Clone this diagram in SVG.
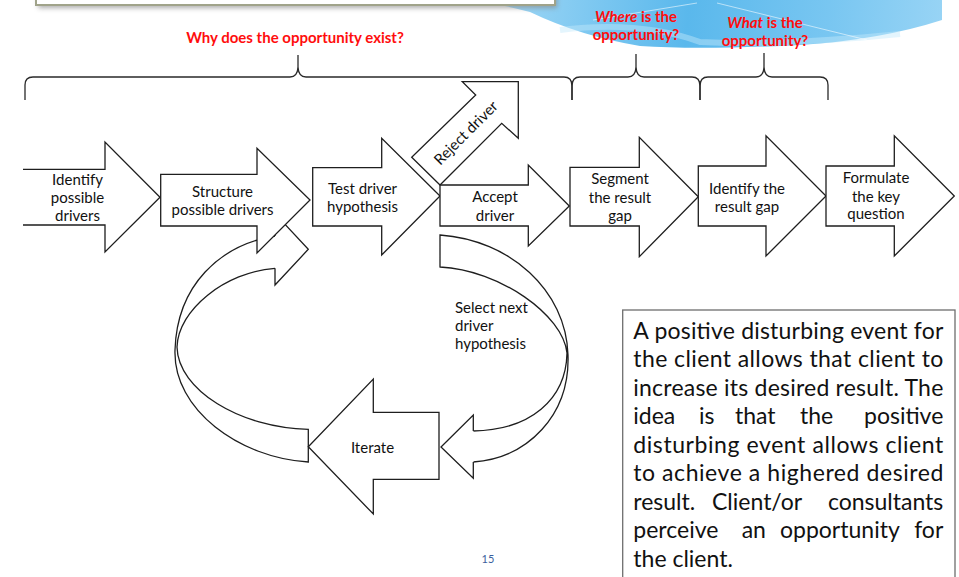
<svg xmlns="http://www.w3.org/2000/svg" width="959" height="577" viewBox="0 0 959 577">
<style>
.shape{fill:#fff;stroke:#1e1e1e;stroke-width:1.3;stroke-linejoin:miter}
.band{fill:none;stroke:#1e1e1e;stroke-width:1.3}
.brace{fill:none;stroke:#2a2a2a;stroke-width:1.3}
.lbl{font-family:Lato,"Open Sans",sans-serif;font-size:15px;fill:#111;text-anchor:middle}
.sel{font-family:Lato,"Open Sans",sans-serif;font-size:15px;fill:#111}
.q{font-family:Lato,"Open Sans",sans-serif;font-weight:bold;font-size:15px;fill:#ff0d0d;text-anchor:middle}
.body{font-family:Lato,"Open Sans",sans-serif;font-size:23px;fill:#111}
</style>
<defs>
<linearGradient id="sky" x1="480" y1="0" x2="942" y2="40" gradientUnits="userSpaceOnUse">
<stop offset="0" stop-color="#a6daf6"/>
<stop offset="0.45" stop-color="#5ab8ec"/>
<stop offset="0.75" stop-color="#78c6f1"/>
<stop offset="1" stop-color="#98d4f5"/>
</linearGradient>
<filter id="sh" x="-5%" y="-50%" width="110%" height="300%">
<feGaussianBlur stdDeviation="2.5"/>
</filter>
</defs>

<g id="background">
<path d="M470,0 L942,0 L942,20 Q880,40 800,45 Q700,50 640,46 Q580,36 530,12 Q500,4 470,0 Z" fill="url(#sky)"/>
<path d="M560,30 Q640,20 700,42 Q780,46 900,34" fill="none" stroke="#c4e8fb" stroke-width="6" opacity="0.45"/>
<line x1="593" y1="20" x2="697" y2="3" stroke="#ffffff" stroke-width="0.8" opacity="0.7"/>
<line x1="717" y1="3" x2="867" y2="40" stroke="#ffffff" stroke-width="0.8" opacity="0.7"/>
<rect x="38" y="-10" width="519" height="18" fill="#8a8a8a" filter="url(#sh)" opacity="0.7"/>
<rect x="36" y="-20" width="519" height="25" fill="#ffffff" stroke="#a0a38a" stroke-width="2"/>
</g>

<g id="questions">
<text class="q" x="295" y="43">Why does the opportunity exist?</text>
<text class="q" x="636" y="22"><tspan font-style="italic">Where</tspan> is the</text>
<text class="q" x="636" y="40">opportunity?</text>
<text class="q" x="765" y="28"><tspan font-style="italic">What</tspan> is the</text>
<text class="q" x="765" y="46">opportunity?</text>
</g>

<g id="braces">
<path class="brace" d="M25,100 V85 Q25,77 33,77 H290 Q297.5,77 298,67 V55 V67 Q298.5,77 306,77 H564 Q572,77 572,86 V100"/>
<path class="brace" d="M572,100 V86 Q572,77 580,77 H628 Q635.5,77 636,67 V54 V67 Q636.5,77 644,77 H692 Q700,77 700,86 V100"/>
<path class="brace" d="M700,100 V86 Q700,77 708,77 H756 Q763.5,77 764,67 V53 V67 Q764.5,77 772,77 H820 Q828,77 828,85 V100"/>
</g>

<g id="connectors">
<path class="band" d="M275,236 C220,245 177,285 175,350 C173,410 240,458 308.3,462 V429.3 C240,428 178,390 177,347 C178,310 225,272 275,268.3"/>
<path class="shape" d="M275,268.3 L275,285 L308.3,249.3 L275,213.6 L275,236"/>
<path class="band" d="M473.3,431 C530,430 566,400 567,353 C563,315 500,270 440,267 V235 C510,240 566,290 568,355 C570,415 528,458 473.3,462"/>
<path class="shape" d="M473.3,431 L473.3,415 L441,447 L473.3,478.3 L473.3,462"/>
</g>

<g id="n-identify">
<path class="shape" d="M23,169.3 L105,169.3 L105,142 L160,197.3 L105,252 L105,225 L23,225"/>
<text class="lbl" x="77.5" y="185">Identify</text>
<text class="lbl" x="77.5" y="203">possible</text>
<text class="lbl" x="77.5" y="221">drivers</text>
</g>

<g id="n-structure">
<path class="shape" d="M160.7,174.3 L257,174.3 L257,148.3 L310,200 L257,253 L257,226 L160.7,226 Z"/>
<text class="lbl" x="222.5" y="196.7">Structure</text>
<text class="lbl" x="222.5" y="215">possible drivers</text>
</g>

<g id="n-test">
<path class="shape" d="M312.7,167.7 L381.7,167.7 L381.7,138.3 L440,196 L381.7,255 L381.7,226 L312.7,226 Z"/>
<text class="lbl" x="362.5" y="194">Test driver</text>
<text class="lbl" x="362.5" y="212">hypothesis</text>
</g>

<g id="n-reject">
<path class="shape" d="M440,185 L411.7,157.3 L475.7,95 L462.3,81.7 L518.3,81.7 L518.3,138.3 L501.7,123.3 Z"/>
<text class="lbl" transform="translate(466,133) rotate(-45)" x="0" y="5">Reject driver</text>
</g>

<g id="n-accept">
<path class="shape" d="M440,185 L528.3,185 L528.3,165 L569.3,206 L528.3,246 L528.3,226 L440,226 Z"/>
<text class="lbl" x="495" y="202">Accept</text>
<text class="lbl" x="495" y="220.5">driver</text>
</g>

<g id="n-segment">
<path class="shape" d="M570,167.3 L639.3,167.3 L639.3,137.3 L698.3,196.7 L639.3,256.7 L639.3,226 L570,226 Z"/>
<text class="lbl" x="620" y="184.3">Segment</text>
<text class="lbl" x="620" y="202.7">the result</text>
<text class="lbl" x="620" y="221">gap</text>
</g>

<g id="n-gap">
<path class="shape" d="M698.3,166 L766,166 L766,135.7 L826,196 L766,256 L766,226 L698.3,226 Z"/>
<text class="lbl" x="747" y="194">Identify the</text>
<text class="lbl" x="747" y="211.7">result gap</text>
</g>

<g id="n-formulate">
<path class="shape" d="M826,166 L894.3,166 L894.3,135.7 L954.3,196 L894.3,256 L894.3,226 L826,226 Z"/>
<text class="lbl" x="876" y="183.3">Formulate</text>
<text class="lbl" x="876" y="201.7">the key</text>
<text class="lbl" x="876" y="219.3">question</text>
</g>

<g id="n-select">
<text class="sel" x="455" y="313">Select next</text>
<text class="sel" x="455" y="331">driver</text>
<text class="sel" x="455" y="349">hypothesis</text>
</g>

<g id="n-iterate">
<path class="shape" d="M439,412.3 L373.3,412.3 L373.3,379 L308.3,446.7 L373.3,514 L373.3,479.3 L439,479.3 Z"/>
<text class="lbl" x="372.5" y="453.3">Iterate</text>
</g>

<g id="n-note">
<rect x="622.7" y="310" width="332.3" height="290" fill="#fff" stroke="#6e6e6e" stroke-width="1.3"/>
<text class="body" x="633.3" y="338.7" textLength="310" lengthAdjust="spacing">A positive disturbing event for</text>
<text class="body" x="633.3" y="367.2" textLength="310" lengthAdjust="spacing">the client allows that client to</text>
<text class="body" x="633.3" y="395.7" textLength="310" lengthAdjust="spacing">increase its desired result. The</text>
<text class="body" y="424.2"><tspan x="633.3">idea</tspan><tspan x="699">is</tspan><tspan x="735">that</tspan><tspan x="800">the</tspan><tspan x="943.3" text-anchor="end">positive</tspan></text>
<text class="body" x="633.3" y="452.7" textLength="310" lengthAdjust="spacing">disturbing event allows client</text>
<text class="body" x="633.3" y="481.2" textLength="310" lengthAdjust="spacing">to achieve a highered desired</text>
<text class="body" y="509.7"><tspan x="633.3">result.</tspan><tspan x="712">Client/or</tspan><tspan x="943.3" text-anchor="end">consultants</tspan></text>
<text class="body" y="538.2"><tspan x="633.3">perceive</tspan><tspan x="741.7">an</tspan><tspan x="780">opportunity</tspan><tspan x="943.3" text-anchor="end">for</tspan></text>
<text class="body" x="633.3" y="566.7">the client.</text>
</g>

<g id="page-number">
<text x="488" y="562.7" font-family="Lato,'Open Sans',sans-serif" font-size="11" fill="#3d5f9e" text-anchor="middle">15</text>
</g>
</svg>
